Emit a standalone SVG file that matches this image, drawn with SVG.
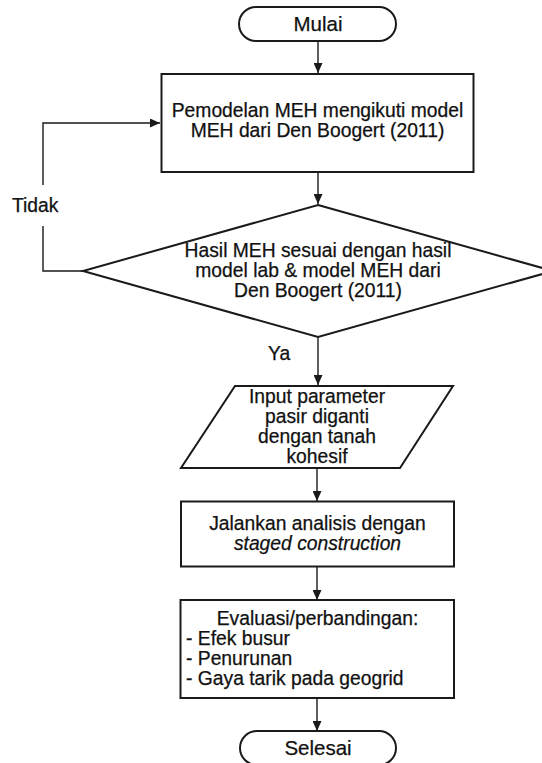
<svg xmlns="http://www.w3.org/2000/svg" width="542" height="763" viewBox="0 0 542 763">
<style>
.shape{fill:#fff;stroke:#1a1a1a;stroke-width:2}
.conn{fill:none;stroke:#1a1a1a;stroke-width:1.4}
text{font-family:"Liberation Sans",Arial,Helvetica,sans-serif;font-size:19.3px;fill:#111;stroke:#111;stroke-width:0.25}
.c{text-anchor:middle}
.term{font-size:20.5px}
</style>
<defs>
<marker id="arr" markerUnits="userSpaceOnUse" markerWidth="10" markerHeight="9" refX="10" refY="4.5" orient="auto">
<path d="M0,0 L10,4.5 L0,9 z" fill="#1a1a1a"/>
</marker>
</defs>
<rect width="542" height="763" fill="#fff"/>
<g id="connectors">
<path class="conn" d="M318,41 V73" marker-end="url(#arr)"/>
<path class="conn" d="M318,172 V204" marker-end="url(#arr)"/>
<path class="conn" d="M318,337 V385" marker-end="url(#arr)"/>
<path class="conn" d="M317,468 V501" marker-end="url(#arr)"/>
<path class="conn" d="M317,567 V600" marker-end="url(#arr)"/>
<path class="conn" d="M317,698 V731" marker-end="url(#arr)"/>
<path class="conn" d="M83,271 H43 V123 H160" marker-end="url(#arr)"/>
</g>
<g id="label-tidak">
<rect x="7" y="185" width="86" height="41" fill="#fff"/>
<text x="12" y="212">Tidak</text>
</g>
<g id="label-ya">
<text x="268" y="360">Ya</text>
</g>
<g id="mulai">
<rect class="shape" x="239" y="7" width="157" height="34" rx="17"/>
<text class="c term" x="318" y="31">Mulai</text>
</g>
<g id="pemodelan">
<rect class="shape" x="161.5" y="74" width="312" height="98"/>
<text class="c" x="317.5" y="117">Pemodelan MEH mengikuti model</text>
<text class="c" x="317.5" y="137">MEH dari Den Boogert (2011)</text>
</g>
<g id="keputusan">
<polygon class="shape" points="318,205 553,271 318,337 83,271"/>
<text class="c" x="318" y="257">Hasil MEH sesuai dengan hasil</text>
<text class="c" x="318" y="277">model lab &amp; model MEH dari</text>
<text class="c" x="318" y="297">Den Boogert (2011)</text>
</g>
<g id="input">
<polygon class="shape" points="235,386 453,386 400,468 181,468"/>
<text class="c" x="317" y="403">Input parameter</text>
<text class="c" x="317" y="423">pasir diganti</text>
<text class="c" x="317" y="443">dengan tanah</text>
<text class="c" x="317" y="463">kohesif</text>
</g>
<g id="analisis">
<rect class="shape" x="181" y="501.5" width="273" height="65"/>
<text class="c" x="317.5" y="530">Jalankan analisis dengan</text>
<text class="c" x="317.5" y="550" font-style="italic">staged construction</text>
</g>
<g id="evaluasi">
<rect class="shape" x="180.5" y="600" width="273.5" height="98"/>
<text class="c" x="317.5" y="625">Evaluasi/perbandingan:</text>
<text x="186" y="645">- Efek busur</text>
<text x="186" y="665">- Penurunan</text>
<text x="186" y="685">- Gaya tarik pada geogrid</text>
</g>
<g id="selesai">
<rect class="shape" x="240" y="731" width="156" height="34" rx="17"/>
<text class="c term" x="318" y="755">Selesai</text>
</g>
</svg>
